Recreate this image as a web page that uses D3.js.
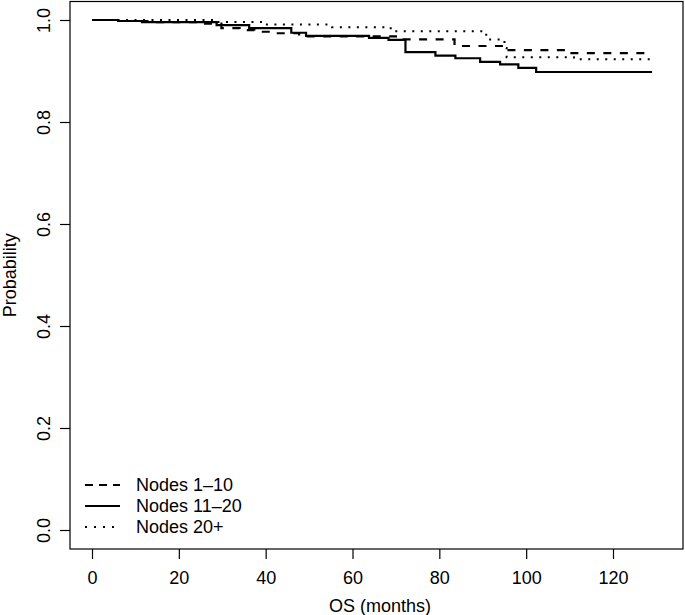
<!DOCTYPE html>
<html>
<head>
<meta charset="utf-8">
<script src="https://cdn.jsdelivr.net/npm/d3@7"></script>
<style>
  body { margin: 0; background: #fff; }
  text { font-family: "Liberation Sans", Arial, sans-serif; fill: #000; }
</style>
</head>
<body>
<div id="chart"></div>
<script>
// survival steps (time in months, probability after the step)
const nodes1to10Time = [0, 6, 13.3, 24.8, 29.8, 34, 37.4, 41.3, 47.7, 70, 83.5, 95, 110, 129];
const nodes1to10Surv = [1, 0.998, 0.996, 0.993, 0.984, 0.980, 0.977, 0.974, 0.968, 0.962, 0.949, 0.941, 0.935, 0.935];

const nodes11to20Time = [0, 6, 11.5, 28.7, 36.2, 45.9, 49.3, 63.8, 68.3, 72.2, 79.1, 83.7, 89.4, 94, 98.2, 102.3, 129];
const nodes11to20Surv = [1, 0.998, 0.996, 0.990, 0.984, 0.975, 0.969, 0.965, 0.961, 0.937, 0.930, 0.925, 0.918, 0.913, 0.906, 0.898, 0.898];

const nodes20plusTime = [0, 29, 40, 55.3, 68.8, 90.8, 95, 95.5, 111, 129];
const nodes20plusSurv = [1, 0.996, 0.991, 0.986, 0.978, 0.962, 0.945, 0.927, 0.923, 0.923];

const legendLabels = ["Nodes 1\u201310", "Nodes 11\u201320", "Nodes 20+"];
const xTicks = [0, 20, 40, 60, 80, 100, 120];
const yTicks = [0, 0.2, 0.4, 0.6, 0.8, 1.0];

const w = 685, h = 615;
const box = { left: 70, right: 683, top: 1.5, bottom: 549 };

const svg = d3.select('#chart').append('svg')
  .attr('width', w)
  .attr('height', h);

const x = d3.scaleLinear().domain([0, 120]).range([92, 613]);
const y = d3.scaleLinear().domain([0, 1]).range([530, 20]);

// plot frame
svg.append('rect')
  .attr('x', box.left)
  .attr('y', box.top)
  .attr('width', box.right - box.left)
  .attr('height', box.bottom - box.top)
  .attr('fill', 'none')
  .attr('stroke', '#000')
  .attr('stroke-width', 1.2);

// axes
const xAxis = d3.axisBottom(x)
  .tickValues(xTicks)
  .tickSize(10)
  .tickPadding(8)
  .tickFormat(d3.format('d'));
const gx = svg.append('g')
  .attr('transform', `translate(0, ${box.bottom})`)
  .call(xAxis);
gx.select('.domain').remove();
gx.selectAll('.tick line').attr('stroke-width', 1.2);
gx.selectAll('.tick text')
  .style('font-size', '18px')
  .attr('dy', '0.95em');

const yAxis = d3.axisLeft(y)
  .tickValues(yTicks)
  .tickSize(10)
  .tickFormat(d3.format('.1f'));
const gy = svg.append('g')
  .attr('transform', `translate(${box.left}, 0)`)
  .call(yAxis);
gy.select('.domain').remove();
gy.selectAll('.tick line').attr('stroke-width', 1.2);
gy.selectAll('.tick text')
  .attr('x', null)
  .attr('dy', null)
  .attr('transform', 'translate(-20, 0) rotate(-90)')
  .style('text-anchor', 'middle')
  .style('font-size', '18px');

// axis titles
svg.append('text')
  .attr('x', 380)
  .attr('y', 612)
  .style('text-anchor', 'middle')
  .style('font-size', '18px')
  .text('OS (months)');

svg.append('text')
  .attr('transform', `translate(16, ${(box.top + box.bottom) / 2}) rotate(-90)`)
  .style('text-anchor', 'middle')
  .style('font-size', '18px')
  .text('Probability');

// curves
const series = [
  { time: nodes20plusTime, surv: nodes20plusSurv, dash: '2,6.5', width: 2 },
  { time: nodes1to10Time, surv: nodes1to10Surv, dash: '8,8.5', width: 2.2 },
  { time: nodes11to20Time, surv: nodes11to20Surv, dash: null, width: 2.2 }
];

const line = d3.line()
  .x(d => x(d[0]))
  .y(d => y(d[1]))
  .curve(d3.curveStepAfter);

series.forEach(s => {
  svg.append('path')
    .datum(d3.zip(s.time, s.surv))
    .attr('d', line)
    .attr('fill', 'none')
    .attr('stroke', '#000')
    .attr('stroke-width', s.width)
    .attr('stroke-dasharray', s.dash);
});

// legend
const legendStyles = [
  { dash: '8,6', width: 2.2 },
  { dash: null, width: 2.2 },
  { dash: '2,7', width: 2 }
];
const legend = svg.append('g');
legendLabels.forEach((label, i) => {
  const ly = 485 + i * 21;
  legend.append('line')
    .attr('x1', 85)
    .attr('x2', 120)
    .attr('y1', ly)
    .attr('y2', ly)
    .attr('stroke', '#000')
    .attr('stroke-width', legendStyles[i].width)
    .attr('stroke-dasharray', legendStyles[i].dash);
  legend.append('text')
    .attr('x', 136)
    .attr('y', ly)
    .attr('dy', '0.35em')
    .style('font-size', '18px')
    .text(label);
});
</script>
</body>
</html>
